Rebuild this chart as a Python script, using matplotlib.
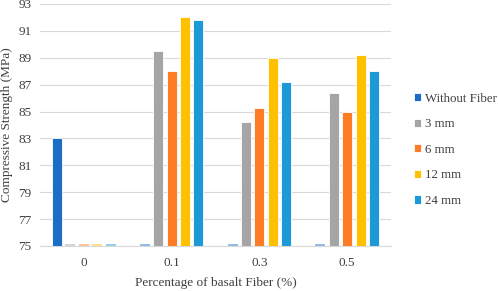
import numpy as np
import matplotlib.pyplot as plt

plt.rcParams['font.family'] = ['Liberation Serif', 'DejaVu Serif']

groups = ['0', '0.1', '0.3', '0.5']
series = ['Without Fiber', '3 mm', '6 mm', '12 mm', '24 mm']
without_fiber = [83.0, 0, 0, 0]
mm3 = [0, 89.5, 84.2, 86.4]
mm6 = [0, 88.0, 85.3, 85.0]
mm12 = [0, 92.0, 89.0, 89.2]
mm24 = [0, 91.8, 87.2, 88.0]
yticks = [75, 77, 79, 81, 83, 85, 87, 89, 91, 93]

colors = ['#1b6ec6', '#a5a5a5', '#ff7c26', '#ffc000', '#1c9ad8']
values = [without_fiber, mm3, mm6, mm12, mm24]

fig = plt.figure(figsize=(4.98, 2.91), dpi=100)
ax = fig.add_axes([40 / 498, 1 - 246 / 291, 351 / 498, 242 / 291])

ymin = yticks[0]
x = np.arange(len(groups))
pitch = 0.153
width = 0.114
for i, (name, vals, c) in enumerate(zip(series, values, colors)):
    pos = x + (i - 2) * pitch
    vals = np.array(vals, dtype=float)
    ax.bar(pos, vals, width, color=c, edgecolor='white', linewidth=0.6,
           label=name, zorder=3)
    # Excel draws zero bars as a faint stub on the axis
    low = vals < ymin
    ax.bar(pos[low], [0.12] * low.sum(), width, bottom=ymin, color=c,
           alpha=0.45, linewidth=0, zorder=3)

ax.set_ylim(ymin, yticks[-1])
ax.set_xlim(-0.5, len(groups) - 0.5)
ax.set_yticks(yticks)
ax.set_xticks(x)
ax.set_xticklabels(groups)
ax.grid(axis='y', color='#d9d9d9', linewidth=0.8, zorder=0)
for s in ['top', 'right', 'left']:
    ax.spines[s].set_visible(False)
ax.spines['bottom'].set_color('#d9d9d9')
ax.tick_params(length=0, labelsize=9.5, colors='#404040', pad=6)
ax.tick_params(axis='x', pad=8)

ax.set_ylabel('Compressive Strength (MPa)', fontsize=9.5, color='#404040', labelpad=4)
ax.set_xlabel('Percentage of basalt Fiber (%)', fontsize=9.5, color='#404040', labelpad=6)

leg = ax.legend(loc='center left', bbox_to_anchor=(1.05, 0.397), frameon=False,
                fontsize=9.3, handlelength=0.6, handleheight=0.6,
                handletextpad=0.25, labelspacing=1.05, borderaxespad=0)
for t in leg.get_texts():
    t.set_color('#404040')

fig.savefig('out.png', dpi=100)
